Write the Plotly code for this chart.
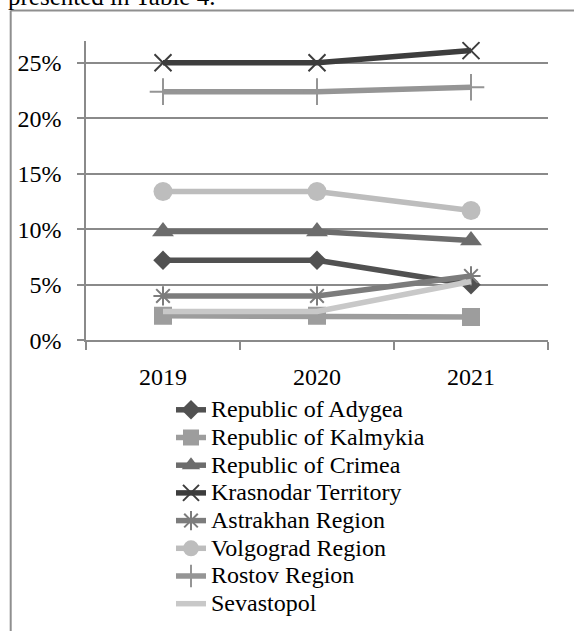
import plotly.graph_objects as go

# ---------------- data ----------------
years = ["2019", "2020", "2021"]
series_names = [
    "Republic of Adygea",
    "Republic of Kalmykia",
    "Republic of Crimea",
    "Krasnodar Territory",
    "Astrakhan Region",
    "Volgograd Region",
    "Rostov Region",
    "Sevastopol",
]
adygea = [0.072, 0.072, 0.050]
kalmykia = [0.022, 0.022, 0.021]
crimea = [0.098, 0.098, 0.090]
krasnodar = [0.250, 0.250, 0.261]
astrakhan = [0.040, 0.040, 0.058]
volgograd = [0.134, 0.134, 0.117]
rostov = [0.224, 0.224, 0.228]
sevastopol = [0.026, 0.026, 0.053]
y_tick_values = [0.0, 0.05, 0.10, 0.15, 0.20, 0.25]
header_text = "presented in Table 4."

series_values = [adygea, kalmykia, crimea, krasnodar, astrakhan, volgograd, rostov, sevastopol]

# ---------------- styles ----------------
colors = ["#515151", "#9d9d9d", "#6c6c6c", "#3d3d3d", "#7c7c7c", "#bdbdbd", "#959595", "#c8c8c8"]
symbols = ["diamond", "square", "triangle-up", "x-thin", "asterisk", "circle", "cross-thin", None]
sizes = [15, 18, 19, 17, 16, 19, 19, 0]

W, H = 574, 644
left, right, top, bottom = 86, 548, 42, 347.3
FONT = "'Liberation Serif', 'Times New Roman', Times, serif"

fig = go.Figure()
for name, vals, c, sym, sz in zip(series_names, series_values, colors, symbols, sizes):
    if sym is None:
        mode = "lines"
        marker = None
    else:
        mode = "lines+markers"
        thin = sym in ("x-thin", "asterisk", "cross-thin")
        marker = dict(symbol=sym, size=sz, color=c,
                      line=dict(width=2 if thin else 0, color=c))
    fig.add_trace(go.Scatter(
        x=years, y=vals, mode=mode, marker=marker,
        line=dict(color=c, width=5.5),
        name="<span style='font-size:24px'>" + name + "</span>",
    ))

grid_col = "#8a8a8a"
fig.update_layout(
    width=W, height=H,
    margin=dict(l=0, r=0, t=0, b=0),
    paper_bgcolor="white", plot_bgcolor="white",
    font=dict(family=FONT, size=24, color="black"),
    showlegend=True,
    legend=dict(
        x=171 / W, y=1 - 399 / H, xanchor="left", yanchor="top",
        font=dict(family=FONT, size=19, color="black"),
        bgcolor="rgba(0,0,0,0)", itemwidth=30,
    ),
    xaxis=dict(
        domain=[left / W, right / W],
        type="category", range=[-0.5, 2.5],
        tickson="boundaries", ticks="outside", ticklen=8, tickwidth=1.5, tickcolor=grid_col,
        showline=True, linecolor=grid_col, linewidth=1.5,
        showgrid=False, tickfont=dict(family=FONT, size=24, color="black"),
        ticklabelstandoff=14,
    ),
    yaxis=dict(
        domain=[1 - bottom / H, 1 - top / H],
        range=[0, 0.2695],
        tickvals=y_tick_values, tickformat=".0%",
        ticks="outside", ticklen=7, tickwidth=1.5, tickcolor=grid_col,
        showline=True, linecolor=grid_col, linewidth=1.5,
        showgrid=True, gridcolor=grid_col, gridwidth=1.5,
        zeroline=False, tickfont=dict(family=FONT, size=24, color="black"),
        ticklabelstandoff=11,
    ),
)

# page frame lines from the surrounding document
fig.add_shape(type="line", xref="paper", yref="paper",
              x0=10.7 / W, x1=10.7 / W, y0=0, y1=1 - 10.7 / H,
              line=dict(color="#8f8f8f", width=2))
fig.add_shape(type="line", xref="paper", yref="paper",
              x0=10.7 / W, x1=1, y0=1 - 10.7 / H, y1=1 - 10.7 / H,
              line=dict(color="#8f8f8f", width=2))

fig.add_annotation(text=header_text, xref="paper", yref="paper",
                   x=6 / W, y=1 - 12 / H, xanchor="left", yanchor="bottom",
                   showarrow=False, font=dict(family=FONT, size=25, color="black"))

fig.write_html("out.html")
